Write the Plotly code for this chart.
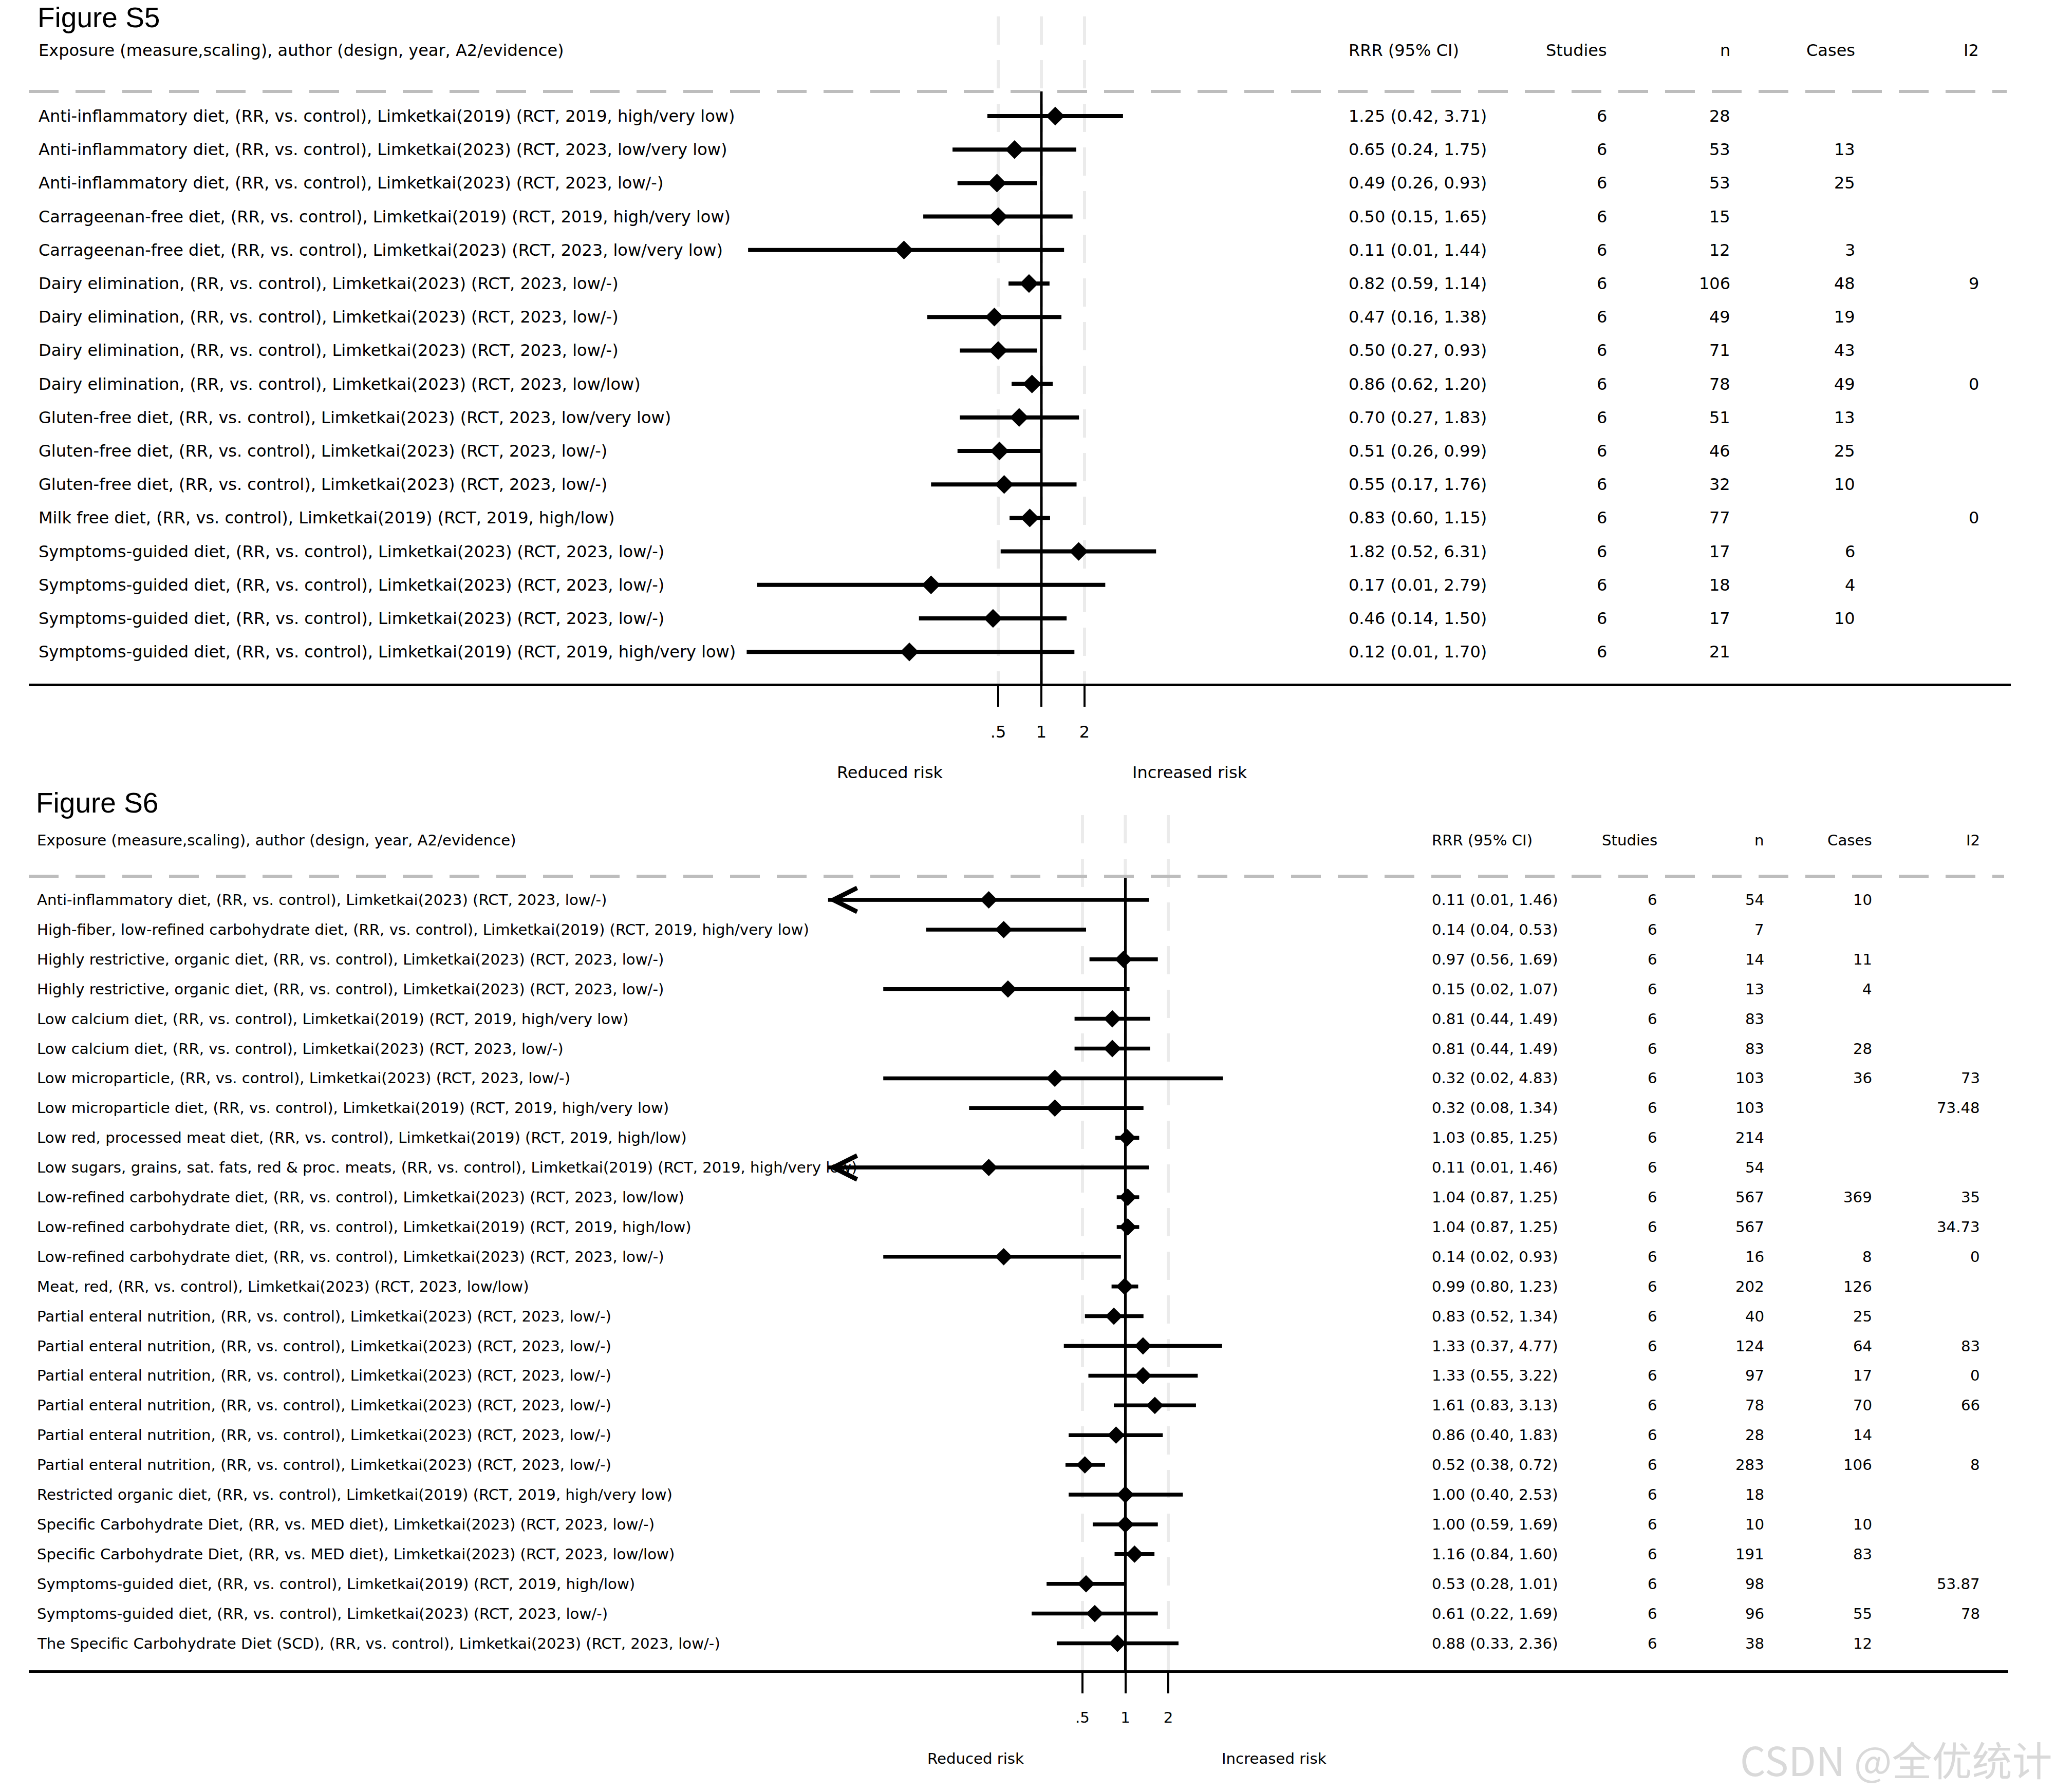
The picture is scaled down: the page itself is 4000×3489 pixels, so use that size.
import math
import plotly.graph_objects as go

W, H = 4000, 3489
FONT = "DejaVu Sans, Liberation Sans, Arial, sans-serif"
TITLE_FONT = "Liberation Sans, Arial, sans-serif"

# ---------------- Figure S5 data ----------------
labels5 = [
    "Anti-inflammatory diet, (RR, vs. control), Limketkai(2019) (RCT, 2019, high/very low)",
    "Anti-inflammatory diet, (RR, vs. control), Limketkai(2023) (RCT, 2023, low/very low)",
    "Anti-inflammatory diet, (RR, vs. control), Limketkai(2023) (RCT, 2023, low/-)",
    "Carrageenan-free diet, (RR, vs. control), Limketkai(2019) (RCT, 2019, high/very low)",
    "Carrageenan-free diet, (RR, vs. control), Limketkai(2023) (RCT, 2023, low/very low)",
    "Dairy elimination, (RR, vs. control), Limketkai(2023) (RCT, 2023, low/-)",
    "Dairy elimination, (RR, vs. control), Limketkai(2023) (RCT, 2023, low/-)",
    "Dairy elimination, (RR, vs. control), Limketkai(2023) (RCT, 2023, low/-)",
    "Dairy elimination, (RR, vs. control), Limketkai(2023) (RCT, 2023, low/low)",
    "Gluten-free diet, (RR, vs. control), Limketkai(2023) (RCT, 2023, low/very low)",
    "Gluten-free diet, (RR, vs. control), Limketkai(2023) (RCT, 2023, low/-)",
    "Gluten-free diet, (RR, vs. control), Limketkai(2023) (RCT, 2023, low/-)",
    "Milk free diet, (RR, vs. control), Limketkai(2019) (RCT, 2019, high/low)",
    "Symptoms-guided diet, (RR, vs. control), Limketkai(2023) (RCT, 2023, low/-)",
    "Symptoms-guided diet, (RR, vs. control), Limketkai(2023) (RCT, 2023, low/-)",
    "Symptoms-guided diet, (RR, vs. control), Limketkai(2023) (RCT, 2023, low/-)",
    "Symptoms-guided diet, (RR, vs. control), Limketkai(2019) (RCT, 2019, high/very low)",
]
rrr5 = [1.25, 0.65, 0.49, 0.50, 0.11, 0.82, 0.47, 0.50, 0.86, 0.70, 0.51, 0.55, 0.83, 1.82, 0.17, 0.46, 0.12]
lo5 = [0.42, 0.24, 0.26, 0.15, 0.009, 0.59, 0.16, 0.27, 0.62, 0.27, 0.26, 0.17, 0.60, 0.52, 0.0104, 0.14, 0.0088]
hi5 = [3.71, 1.75, 0.93, 1.65, 1.44, 1.14, 1.38, 0.93, 1.20, 1.83, 0.99, 1.76, 1.15, 6.31, 2.79, 1.50, 1.70]
studies5 = [6, 6, 6, 6, 6, 6, 6, 6, 6, 6, 6, 6, 6, 6, 6, 6, 6]
n5 = [28, 53, 53, 15, 12, 106, 49, 71, 78, 51, 46, 32, 77, 17, 18, 17, 21]
cases5 = ["", "13", "25", "", "3", "48", "19", "43", "49", "13", "25", "10", "", "6", "4", "10", ""]
i2_5 = ["", "", "", "", "", "9", "", "", "0", "", "", "", "0", "", "", "", ""]

# ---------------- Figure S6 data ----------------
labels6 = [
    "Anti-inflammatory diet, (RR, vs. control), Limketkai(2023) (RCT, 2023, low/-)",
    "High-fiber, low-refined carbohydrate diet, (RR, vs. control), Limketkai(2019) (RCT, 2019, high/very low)",
    "Highly restrictive, organic diet, (RR, vs. control), Limketkai(2023) (RCT, 2023, low/-)",
    "Highly restrictive, organic diet, (RR, vs. control), Limketkai(2023) (RCT, 2023, low/-)",
    "Low calcium diet, (RR, vs. control), Limketkai(2019) (RCT, 2019, high/very low)",
    "Low calcium diet, (RR, vs. control), Limketkai(2023) (RCT, 2023, low/-)",
    "Low microparticle, (RR, vs. control), Limketkai(2023) (RCT, 2023, low/-)",
    "Low microparticle diet, (RR, vs. control), Limketkai(2019) (RCT, 2019, high/very low)",
    "Low red, processed meat diet, (RR, vs. control), Limketkai(2019) (RCT, 2019, high/low)",
    "Low sugars, grains, sat. fats, red & proc. meats, (RR, vs. control), Limketkai(2019) (RCT, 2019, high/very low)",
    "Low-refined carbohydrate diet, (RR, vs. control), Limketkai(2023) (RCT, 2023, low/low)",
    "Low-refined carbohydrate diet, (RR, vs. control), Limketkai(2019) (RCT, 2019, high/low)",
    "Low-refined carbohydrate diet, (RR, vs. control), Limketkai(2023) (RCT, 2023, low/-)",
    "Meat, red, (RR, vs. control), Limketkai(2023) (RCT, 2023, low/low)",
    "Partial enteral nutrition, (RR, vs. control), Limketkai(2023) (RCT, 2023, low/-)",
    "Partial enteral nutrition, (RR, vs. control), Limketkai(2023) (RCT, 2023, low/-)",
    "Partial enteral nutrition, (RR, vs. control), Limketkai(2023) (RCT, 2023, low/-)",
    "Partial enteral nutrition, (RR, vs. control), Limketkai(2023) (RCT, 2023, low/-)",
    "Partial enteral nutrition, (RR, vs. control), Limketkai(2023) (RCT, 2023, low/-)",
    "Partial enteral nutrition, (RR, vs. control), Limketkai(2023) (RCT, 2023, low/-)",
    "Restricted organic diet, (RR, vs. control), Limketkai(2019) (RCT, 2019, high/very low)",
    "Specific Carbohydrate Diet, (RR, vs. MED diet), Limketkai(2023) (RCT, 2023, low/-)",
    "Specific Carbohydrate Diet, (RR, vs. MED diet), Limketkai(2023) (RCT, 2023, low/low)",
    "Symptoms-guided diet, (RR, vs. control), Limketkai(2019) (RCT, 2019, high/low)",
    "Symptoms-guided diet, (RR, vs. control), Limketkai(2023) (RCT, 2023, low/-)",
    "The Specific Carbohydrate Diet (SCD), (RR, vs. control), Limketkai(2023) (RCT, 2023, low/-)",
]
rrr6 = [0.11, 0.14, 0.97, 0.15, 0.81, 0.81, 0.32, 0.32, 1.03, 0.11, 1.04, 1.04, 0.14, 0.99,
        0.83, 1.33, 1.33, 1.61, 0.86, 0.52, 1.00, 1.00, 1.16, 0.53, 0.61, 0.88]
lo6 = [0.007, 0.04, 0.56, 0.02, 0.44, 0.44, 0.02, 0.08, 0.85, 0.007, 0.87, 0.87, 0.02, 0.80,
       0.52, 0.37, 0.55, 0.83, 0.40, 0.38, 0.40, 0.59, 0.84, 0.28, 0.22, 0.33]
hi6 = [1.46, 0.53, 1.69, 1.07, 1.49, 1.49, 4.83, 1.34, 1.25, 1.46, 1.25, 1.25, 0.93, 1.23,
       1.34, 4.77, 3.22, 3.13, 1.83, 0.72, 2.53, 1.69, 1.60, 1.01, 1.69, 2.36]
studies6 = [6] * 26
n6 = [54, 7, 14, 13, 83, 83, 103, 103, 214, 54, 567, 567, 16, 202, 40, 124, 97, 78, 28, 283, 18, 10, 191, 98, 96, 38]
cases6 = ["10", "", "11", "4", "", "28", "36", "", "", "", "369", "", "8", "126", "25", "64", "17", "70",
          "14", "106", "", "10", "83", "", "55", "12"]
i2_6 = ["", "", "", "", "", "", "73", "73.48", "", "", "35", "34.73", "0", "", "", "83", "0", "66",
        "", "8", "", "", "", "53.87", "78", ""]
clip6 = 0.0082  # lower display limit of the S6 axis (arrow drawn beyond it)

tick_vals = [0.5, 1, 2]
tick_text = [".5", "1", "2"]
col_headers = ["RRR (95% CI)", "Studies", "n", "Cases", "I2"]
row_header = "Exposure (measure,scaling), author (design, year, A2/evidence)"

# ---------------- layout geometry (pixels) ----------------
def fx(p):
    return p / W

def fy(p):
    return 1 - p / H

panels = [
    dict(name="Figure S5", labels=labels5, rrr=rrr5, lo=lo5, hi=hi5, st=studies5, n=n5, cases=cases5, i2=i2_5,
         clip=None, fs=32, title_top=1, head_y=98, dash_y=178, row0=226, step=65.2, axis_y=1333,
         gray_top=32, one_px=2027.0, per2=84.0, x0=56, x1=3914, lab_x=73,
         cols=[2623, 3130, 3370, 3613, 3854], red=(1732, 1504), inc=(2316, 1504),
         ytop=0, ybot=1540, lw=8, msize=28, xa="x", ya="y"),
    dict(name="Figure S6", labels=labels6, rrr=rrr6, lo=lo6, hi=hi6, st=studies6, n=n6, cases=cases6, i2=i2_6,
         clip=clip6, fs=29.2, title_top=1530, head_y=1636, dash_y=1706, row0=1752, step=57.9, axis_y=3254,
         gray_top=1587, one_px=2190.5, per2=83.5, x0=56, x1=3909, lab_x=70,
         cols=[2785, 3228, 3436, 3646, 3856], red=(1899, 3424), inc=(2480, 3424),
         ytop=1540, ybot=3489, lw=7.5, msize=26, xa="x2", ya="y2"),
]

fig = go.Figure()
annotations = []
shapes = []
layout_axes = {}

for k, P in enumerate(panels):
    xa, ya = P["xa"], P["ya"]
    xkey = "xaxis" if xa == "x" else "xaxis2"
    ykey = "yaxis" if ya == "y" else "yaxis2"
    l2 = math.log10(2)
    r0 = (P["x0"] - P["one_px"]) / P["per2"] * l2
    r1 = (P["x1"] - P["one_px"]) / P["per2"] * l2
    layout_axes[xkey] = dict(
        type="log", domain=[fx(P["x0"]), fx(P["x1"])], range=[r0, r1],
        anchor="free", position=fy(P["axis_y"]),
        showline=True, linecolor="black", linewidth=5,
        ticks="outside", ticklen=40, tickwidth=4, tickcolor="black",
        tickvals=tick_vals, ticktext=tick_text, ticklabelstandoff=22,
        tickfont=dict(family=FONT, size=P["fs"], color="black"),
        showgrid=False, zeroline=False, fixedrange=True,
    )
    nrows = len(P["labels"])
    layout_axes[ykey] = dict(
        domain=[fy(P["ybot"]), fy(P["ytop"])],
        range=[(P["ybot"] - P["row0"]) / P["step"], (P["ytop"] - P["row0"]) / P["step"]],
        visible=False, anchor=xa, fixedrange=True,
    )

    # CI lines (clipped to display range if needed)
    xs, ys = [], []
    for i in range(nrows):
        lo = P["lo"][i]
        if P["clip"] is not None and lo < P["clip"]:
            lo = P["clip"]
        xs += [lo, P["hi"][i], None]
        ys += [i, i, None]
    fig.add_trace(go.Scatter(x=xs, y=ys, mode="lines", xaxis=xa, yaxis=ya,
                             line=dict(color="black", width=P["lw"]), hoverinfo="skip", showlegend=False))
    fig.add_trace(go.Scatter(x=P["rrr"], y=list(range(nrows)), mode="markers", xaxis=xa, yaxis=ya,
                             marker=dict(symbol="diamond", size=P["msize"], color="black", line=dict(width=0)),
                             showlegend=False))
    # arrows for CIs beyond the display limit
    if P["clip"] is not None:
        for i in range(nrows):
            if P["lo"][i] < P["clip"]:
                annotations.append(dict(
                    x=math.log10(P["clip"]), y=i, xref=xa, yref=ya,
                    ax=math.log10(P["rrr"][i]), ay=i, axref=xa, ayref=ya,
                    text="", showarrow=True, arrowhead=5, arrowsize=1.35,
                    arrowwidth=P["lw"] * 0.9, arrowcolor="black", standoff=0, startstandoff=0))

    # light gray dashed guide lines at .5, 1, 2
    for v in tick_vals:
        shapes.append(dict(type="line", xref=xa, yref="paper", x0=v, x1=v,
                           y0=fy(P["gray_top"]), y1=fy(P["axis_y"]), layer="below",
                           line=dict(color="#ebebeb", width=6, dash="55px,30px")))
    # reference line at 1
    shapes.append(dict(type="line", xref=xa, yref="paper", x0=1, x1=1,
                       y0=fy(P["dash_y"]), y1=fy(P["axis_y"]), layer="below",
                       line=dict(color="black", width=5)))
    # horizontal dashed separator
    shapes.append(dict(type="line", xref="paper", yref="paper", x0=fx(P["x0"]), x1=fx(P["x1"] - 8),
                       y0=fy(P["dash_y"]), y1=fy(P["dash_y"]), layer="below",
                       line=dict(color="#bdbdbd", width=6, dash="58px,33px")))

    f = dict(family=FONT, size=P["fs"], color="black")
    # title
    annotations.append(dict(text=P["name"], x=fx(P["lab_x"] - 2), y=fy(P["title_top"]), xref="paper", yref="paper",
                            xanchor="left", yanchor="top", showarrow=False,
                            font=dict(family=TITLE_FONT, size=55, color="black")))
    # headers
    annotations.append(dict(text=row_header, x=fx(P["lab_x"]), y=fy(P["head_y"]), xref="paper", yref="paper",
                            xanchor="left", yanchor="middle", showarrow=False, font=f))
    for j, h in enumerate(col_headers):
        annotations.append(dict(text=h, x=fx(P["cols"][j]), y=fy(P["head_y"]), xref="paper", yref="paper",
                                xanchor="left" if j == 0 else "right", yanchor="middle", showarrow=False, font=f))
    # rows
    for i in range(nrows):
        annotations.append(dict(text=P["labels"][i], x=fx(P["lab_x"]), y=i, xref="paper", yref=ya,
                                xanchor="left", yanchor="middle", showarrow=False, font=f))
        cells = [f"{P['rrr'][i]:.2f} ({P['lo'][i]:.2f}, {P['hi'][i]:.2f})", str(P["st"][i]), str(P["n"][i]),
                 P["cases"][i], P["i2"][i]]
        for j, c in enumerate(cells):
            if c == "":
                continue
            annotations.append(dict(text=c, x=fx(P["cols"][j]), y=i, xref="paper", yref=ya,
                                    xanchor="left" if j == 0 else "right", yanchor="middle",
                                    showarrow=False, font=f))
    # risk direction labels
    for txt, (cx, cy) in (("Reduced risk", P["red"]), ("Increased risk", P["inc"])):
        annotations.append(dict(text=txt, x=fx(cx), y=fy(cy), xref="paper", yref="paper",
                                xanchor="center", yanchor="middle", showarrow=False, font=f))

# watermark
annotations.append(dict(text="CSDN @全优统计", x=fx(3996), y=fy(3424), xref="paper", yref="paper",
                        xanchor="right", yanchor="middle", showarrow=False,
                        font=dict(family="Noto Sans CJK SC, Liberation Sans, sans-serif", size=78, color="#d9d9d9")))

fig.update_layout(
    width=W, height=H, margin=dict(l=0, r=0, t=0, b=0),
    paper_bgcolor="white", plot_bgcolor="rgba(0,0,0,0)",
    showlegend=False, annotations=annotations, shapes=shapes,
    **layout_axes,
)

fig.write_html("out.html", config={"displayModeBar": False},
               post_script="document.body.style.margin='0px';")
